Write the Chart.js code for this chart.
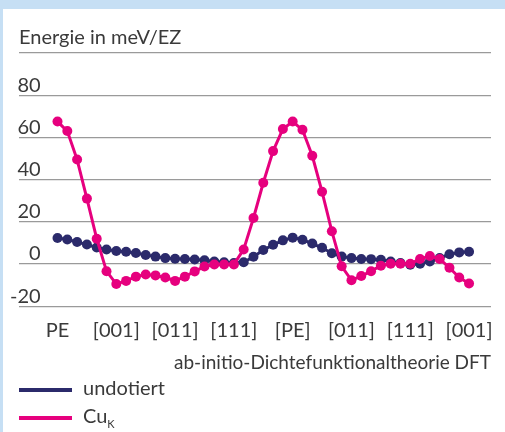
<!DOCTYPE html>
<html>
<head>
<meta charset="utf-8">
<script src="https://cdn.jsdelivr.net/npm/chart.js"></script>
<style>
    html, body { margin: 0; padding: 0; background: #c6dff4; }
    #panel { position: absolute; left: 3px; top: 9px; width: 502px; height: 423px; background: #fff; overflow: hidden; }
    #myChart { position: absolute; left: 0; top: 0; }
    .legItem { position: absolute; left: 16px; font-family: Lato, sans-serif; font-size: 20px; color: #3a3a3a; line-height: 24px; }
    .legItem span.line { display: inline-block; width: 53px; height: 4px; vertical-align: middle; margin-right: 11px; }
    sub { font-size: 11px; }
</style>
</head>
<body>
<div id="panel">
    <canvas id="myChart" width="502" height="423"></canvas>
    <div class="legItem" style="top:366px"><span class="line" style="background:#2b2a6b"></span>undotiert</div>
    <div class="legItem" style="top:394px"><span class="line" style="background:#e6007e"></span>Cu<sub>K</sub></div>
</div>
<script>
// Achsenbeschriftungen
const xLabels = ['PE', '[001]', '[011]', '[111]', '[PE]', '[011]', '[111]', '[001]'];
const yTicks = [-20, 0, 20, 40, 60, 80, 100];

// Energie in meV/EZ, 43 Punkte
const undotiert = [12.3, 11.6, 10.4, 9.2, 7.8, 6.9, 6.2, 5.8, 5.2, 4.3, 3.5, 2.8, 2.5, 2.4, 2.1, 1.8, 1.2, 0.8, 0.5, 0.8,
    3.4, 6.6, 9.1, 11.2, 12.5, 11.5, 9.7, 7.7, 5.1, 3.5, 2.8, 2.4, 2.3, 2.0, 1.2, 0.5, -0.3, 0.1, 1.2, 2.8,
    4.6, 5.5, 5.8];
const cuK = [67.5, 63, 49.5, 31, 12, -3.4, -9.5, -8, -6, -5, -5.4, -6.4, -8, -6, -3.5, -1.2, -0.2, -0.2, -0.2, 6.9,
    21.8, 38.5, 53.5, 64, 67.5, 63.6, 51.3, 34.2, 15.5, -1.1, -7.7, -5.7, -3.4, -0.8, 0.1, 0.1, 0.1, 2.4, 3.8, 2.4,
    -1.8, -6.4, -9.2];

const textColor = '#3a3a3a';
const font = { family: 'Lato', size: 20, weight: 'normal' };

const config = {
    type: 'line',
    data: {
        labels: undotiert.map((v, i) => i),
        datasets: [
            {
                label: 'undotiert',
                data: undotiert,
                borderColor: '#2b2a6b',
                backgroundColor: '#2b2a6b',
                borderWidth: 3,
                pointRadius: 5,
                pointBorderWidth: 0,
                order: 1
            },
            {
                label: 'Cu_K',
                data: cuK,
                borderColor: '#e6007e',
                backgroundColor: '#e6007e',
                borderWidth: 3,
                pointRadius: 5,
                pointBorderWidth: 0,
                order: 0
            }
        ]
    },
    options: {
        responsive: false,
        animation: false,
        layout: { padding: { left: 16, right: 14, top: 0, bottom: 58 } },
        plugins: {
            legend: { display: false },
            tooltip: { enabled: false },
            title: {
                display: true,
                text: 'Energie in meV/EZ',
                align: 'start',
                color: textColor,
                font: font,
                padding: { top: 17, bottom: 3 }
            }
        },
        scales: {
            x: {
                type: 'linear',
                min: -3.93,
                max: 44.24,
                afterBuildTicks: (scale) => {
                    scale.ticks = xLabels.map((l, i) => ({ value: i * 6 }));
                },
                ticks: {
                    autoSkip: false,
                    maxRotation: 0,
                    color: textColor,
                    font: font,
                    padding: 4,
                    callback: (v) => xLabels[Math.round(v / 6)]
                },
                grid: { display: false },
                border: { display: false },
                title: {
                    display: true,
                    text: 'ab-initio-Dichtefunktionaltheorie DFT',
                    align: 'end',
                    color: textColor,
                    font: { family: 'Lato', size: 19, weight: 'normal' },
                    padding: { top: 5, bottom: 0 }
                }
            },
            y: {
                min: -20,
                max: 100,
                afterBuildTicks: (scale) => {
                    scale.ticks = yTicks.map((v) => ({ value: v }));
                },
                ticks: {
                    mirror: true,
                    crossAlign: 'far',
                    padding: -3,
                    labelOffset: -10,
                    color: textColor,
                    font: font,
                    callback: (v) => (v === 100 ? '' : v)
                },
                grid: { color: '#9a9a9a', lineWidth: 1.3, drawTicks: false },
                border: { display: false }
            }
        }
    }
};

const ctx = document.querySelector('#myChart').getContext('2d');
new Chart(ctx, config);
</script>
</body>
</html>
